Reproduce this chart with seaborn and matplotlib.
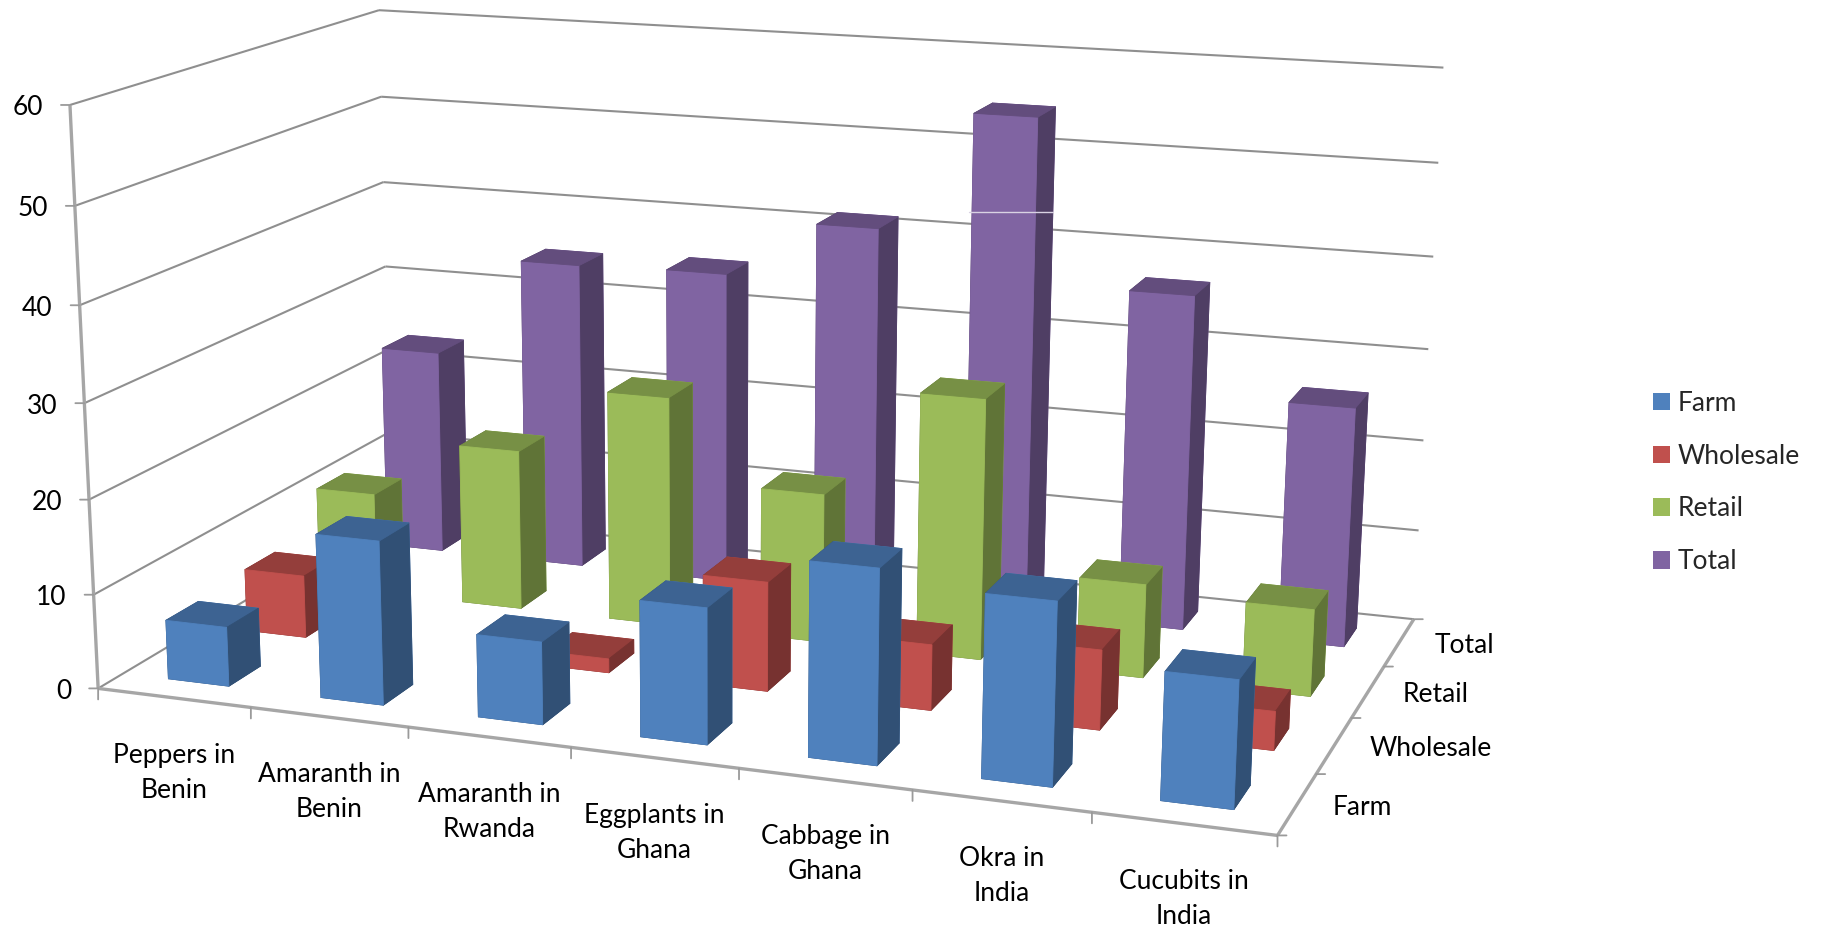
import numpy as np
import pandas as pd
import seaborn as sns
import matplotlib
matplotlib.use("Agg")
import matplotlib.pyplot as plt
from matplotlib.lines import Line2D
from matplotlib.patches import Patch
from mpl_toolkits.mplot3d import proj3d
from mpl_toolkits.mplot3d.art3d import Line3DCollection

crops = ["Peppers in\nBenin", "Amaranth in\nBenin", "Amaranth in\nRwanda", "Eggplants in\nGhana",
         "Cabbage in\nGhana", "Okra in\nIndia", "Cucubits in\nIndia"]
stages = ["Farm", "Wholesale", "Retail", "Total"]
farm = [6.3, 17.2, 8.6, 14.0, 19.8, 18.4, 12.7]
wholesale = [6.8, 0.0, 1.5, 11.6, 6.9, 8.3, 4.0]
retail = [11.2, 17.7, 25.2, 16.2, 28.1, 10.0, 9.2]
total = [23.3, 34.7, 35.0, 41.3, 54.4, 36.6, 26.0]
y_ticks = [0, 10, 20, 30, 40, 50, 60]
stage_colors = ["#4F81BD", "#C0504D", "#9BBB59", "#8064A2"]

WIDTH, HEIGHT = 1822, 930
BAR = 0.4
FONT = 19

sns.set_theme(style="white", rc={"figure.facecolor": "white"})
plt.rcParams["font.family"] = ["Lato", "DejaVu Sans"]
palette = sns.color_palette(stage_colors)

table = pd.DataFrame({"Farm": farm, "Wholesale": wholesale, "Retail": retail, "Total": total}, index=crops)

# Camera calibration: known box corners (category, stage, value) and where they fall on the canvas.
box_points = np.array([
    (0, 0, 60), (0, 0, 50), (0, 0, 10), (0, 0, 0), (1, 0, 0), (2, 0, 0), (7, 0, 0),
    (7, 1, 0), (7, 2, 0), (7, 3, 0), (7, 4, 0), (7, 4, 50), (7, 4, 60),
    (0, 4, 60), (0, 4, 50), (0, 4, 40), (0, 4, 30), (0, 4, 0)], float)
canvas_points = np.array([
    (68, 107), (74, 208), (95, 595), (98, 686), (251, 705), (408, 725), (1278, 837),
    (1318, 776), (1352, 718), (1383, 666), (1413, 617), (1438, 163), (1443, 68),
    (380, 10), (383, 95), (383, 180), (386, 265), (390, 520)], float)


def fit_camera(world, image):
    rows, rhs = [], []
    for (x, y, z), (u, v) in zip(world, image):
        v = HEIGHT - v
        rows.append([x, y, z, 1, 0, 0, 0, 0, -u * x, -u * y, -u * z])
        rows.append([0, 0, 0, 0, x, y, z, 1, -v * x, -v * y, -v * z])
        rhs += [u, v]
    p = np.linalg.lstsq(np.array(rows), np.array(rhs), rcond=None)[0]
    return np.append(p, 1.0).reshape(3, 4)


camera = fit_camera(box_points, canvas_points)

fig = plt.figure(figsize=(WIDTH / 100, HEIGHT / 100), dpi=100)
ax = fig.add_axes([0, 0, 1, 1], projection="3d", computed_zorder=False)
ax.set_axis_off()
ax.apply_aspect = lambda position=None: None


def projection():
    # Pixel camera expressed in the 2D data space that the 3D axes draws into.
    to_data = ax.transData.inverted().get_matrix()
    cam = to_data @ camera
    depth = cam[2] - np.array([0, 0, 0, 1.0])
    return np.vstack([cam[0], cam[1], depth, cam[2]])


ax.get_proj = projection
ax.M = ax.get_proj()


def place(x, y, z):
    px, py, _ = proj3d.proj_transform(x, y, z, ax.M)
    return px, py


def label(text, xyz, dx, dy, **kw):
    ax.annotate(text, xy=place(*xyz), xytext=(dx, dy), xycoords="data", textcoords="offset pixels",
                annotation_clip=False, fontsize=FONT, color="black", **kw)


def tick(xyz, dx, dy):
    ax.annotate("", xy=place(*xyz), xytext=(dx, dy), xycoords="data", textcoords="offset pixels",
                annotation_clip=False,
                arrowprops=dict(arrowstyle="-", color="#9a9a9a", lw=1.3, shrinkA=0, shrinkB=0))


# Wall gridlines
grid_segments = []
for v in y_ticks:
    grid_segments.append([(0, 0, v), (0, 4, v)])
    grid_segments.append([(0, 4, v), (7, 4, v)])
grid = Line3DCollection(grid_segments, colors="#8f8f8f", linewidths=1.5, zorder=1)
ax.add_collection3d(grid, autolim=False)

# Box edges and axis lines
edge_segments = [[(0, 0, 0), (0, 0, 60)], [(0, 0, 0), (7, 0, 0)], [(7, 0, 0), (7, 4, 0)]]
edges = Line3DCollection(edge_segments, colors="#a6a6a6", linewidths=2.4, zorder=2)
ax.add_collection3d(edges, autolim=False)

for v in y_ticks:
    tick((0, 0, v), -9, 0)
    label(str(v), (0, 0, v), -27, -3, ha="right", va="center")
for i in range(len(crops) + 1):
    tick((i, 0, 0), 0, -11)
for j in range(len(stages) + 1):
    tick((7, j, 0), 9, 0)

for i, name in enumerate(crops):
    label(name, (i + 0.5, 0, 0), 0, -75, ha="center", va="center", linespacing=1.5)
for j, name in enumerate(stages):
    label(name, (7, j + 0.5, 0), 35, -3, ha="left", va="center")

# Bars, farthest row first so nearer ones paint over them
for j, stage in enumerate(stages):
    base = np.array(palette[j])
    top_face = base * 0.77
    side_face = base * 0.62
    # order of bar3d faces: bottom, top, front, back, left, right
    faces = [tuple(side_face), tuple(top_face), tuple(base), tuple(base), tuple(side_face), tuple(side_face)]
    for i, crop in enumerate(crops):
        value = table.loc[crop, stage]
        if value <= 0:
            continue
        ax.bar3d(i + 0.5 - BAR / 2, j + 0.5 - BAR / 2, 0, BAR, BAR, value, color=faces, shade=False,
                 edgecolor=faces, linewidth=0.6, zorder=100 - 10 * j + i)

# Hairline seam across the tallest column
fig.add_artist(Line2D([969 / WIDTH, 1053 / WIDTH], [1 - 212 / HEIGHT] * 2, color="#d9d2e3", lw=1.0,
                      transform=fig.transFigure))

handles = [Patch(facecolor=palette[j], edgecolor="none", label=s) for j, s in enumerate(stages)]
fig.legend(handles=handles, loc="center left", bbox_to_anchor=(1653 / WIDTH, 1 - 482.5 / HEIGHT),
           frameon=False, fontsize=FONT, labelspacing=1.06, handlelength=0.64, handleheight=0.64,
           handletextpad=0.3, borderpad=0, borderaxespad=0)

fig.savefig("out.png", dpi=100, facecolor="white")
